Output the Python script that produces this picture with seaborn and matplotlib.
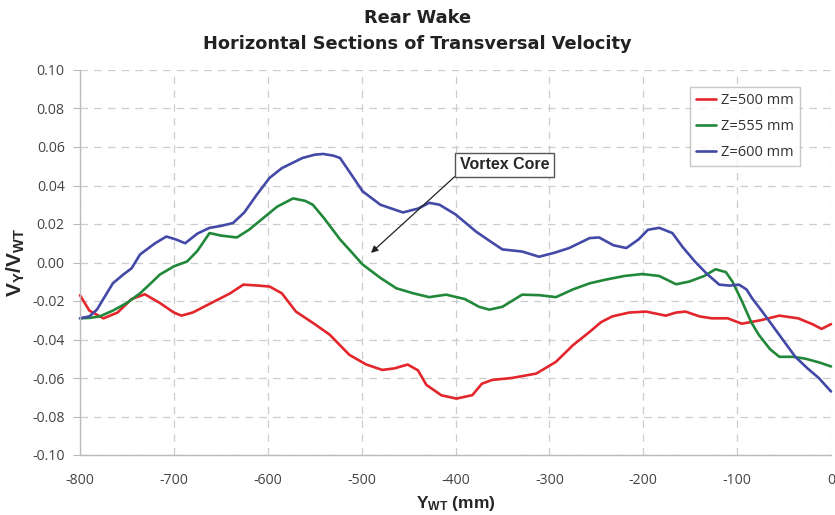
import numpy as np
import pandas as pd
import seaborn as sns
import matplotlib
matplotlib.use("Agg")
import matplotlib.pyplot as plt

# ---- data ----
x_500 = [-800, -790, -775, -760, -745, -731, -715, -700, -692, -680, -660, -640, -626, -610,
         -598, -585, -570, -550, -534, -513, -495, -478, -465, -451, -440, -431, -415, -399,
         -382, -372, -361, -340, -314, -293, -275, -257, -245, -233, -215, -197, -176, -165,
         -155, -140, -127, -110, -95, -75, -55, -35, -20, -10, 0]
y_500 = [-0.017, -0.025, -0.029, -0.026, -0.019, -0.0165, -0.021, -0.026, -0.0276, -0.026,
         -0.021, -0.016, -0.0115, -0.012, -0.0125, -0.016, -0.0255, -0.032, -0.0375, -0.048,
         -0.053, -0.0558, -0.055, -0.053, -0.056, -0.0636, -0.069, -0.0707, -0.0689, -0.063,
         -0.061, -0.060, -0.0577, -0.0516, -0.043, -0.036, -0.031, -0.028, -0.026, -0.0255,
         -0.0276, -0.026, -0.0255, -0.028, -0.029, -0.029, -0.0318, -0.030, -0.0276, -0.029,
         -0.032, -0.0345, -0.032]

x_555 = [-800, -790, -779, -765, -750, -736, -725, -715, -700, -686, -675, -662, -650, -633,
         -620, -605, -590, -573, -560, -552, -540, -523, -510, -499, -480, -463, -445, -428,
         -410, -390, -375, -364, -350, -329, -310, -293, -275, -257, -240, -220, -201, -183,
         -165, -151, -135, -123, -112, -105, -95, -85, -77, -65, -55, -40, -27, -12, 0]
y_555 = [-0.029, -0.0288, -0.028, -0.025, -0.021, -0.016, -0.011, -0.0063, -0.002, 0.0005,
         0.006, 0.0153, 0.014, 0.013, 0.017, 0.023, 0.029, 0.0333, 0.032, 0.030, 0.023, 0.012,
         0.005, -0.001, -0.008, -0.0134, -0.016, -0.018, -0.0167, -0.019, -0.023, -0.0245,
         -0.023, -0.0167, -0.017, -0.018, -0.014, -0.0108, -0.0089, -0.007, -0.006, -0.007,
         -0.0113, -0.0099, -0.007, -0.0035, -0.005, -0.0099, -0.020, -0.031, -0.0375, -0.045,
         -0.049, -0.049, -0.050, -0.052, -0.054]

x_600 = [-800, -790, -782, -765, -754, -745, -736, -720, -708, -698, -688, -675, -662, -650,
         -637, -625, -612, -598, -585, -563, -550, -541, -530, -523, -510, -499, -480, -456,
         -440, -428, -417, -400, -378, -360, -350, -329, -311, -295, -279, -257, -247, -232,
         -218, -205, -195, -183, -169, -158, -145, -132, -119, -108, -98, -90, -84, -74, -63,
         -50, -38, -25, -13, 0]
y_600 = [-0.029, -0.028, -0.0245, -0.0108, -0.0063, -0.003, 0.0042, 0.010, 0.0135, 0.012,
         0.010, 0.015, 0.018, 0.019, 0.0205, 0.026, 0.035, 0.044, 0.049, 0.0543, 0.0560,
         0.0564, 0.0555, 0.0543, 0.045, 0.037, 0.030, 0.026, 0.028, 0.031, 0.030, 0.025,
         0.016, 0.010, 0.0068, 0.0057, 0.003, 0.005, 0.0075, 0.0127, 0.013, 0.009, 0.0075,
         0.012, 0.017, 0.018, 0.0153, 0.008, 0.0005, -0.006, -0.0115, -0.012, -0.0115,
         -0.014, -0.0186, -0.025, -0.0323, -0.041, -0.049, -0.055, -0.060, -0.067]

series_labels = ["Z=500 mm", "Z=555 mm", "Z=600 mm"]
x_ticks = [-800, -700, -600, -500, -400, -300, -200, -100, 0]
y_ticks = [-0.10, -0.08, -0.06, -0.04, -0.02, 0.00, 0.02, 0.04, 0.06, 0.08, 0.10]
annotation_text = "Vortex Core"
annotation_xy = (-490, 0.005)
annotation_text_xy = (-348, 0.0508)

frames = []
for lab, xs, ys in zip(series_labels, [x_500, x_555, x_600], [y_500, y_555, y_600]):
    frames.append(pd.DataFrame({"Y": xs, "V": ys, "series": lab}))
df = pd.concat(frames, ignore_index=True)

sns.set_theme(style="white")
plt.rcParams["font.family"] = ["Liberation Sans", "DejaVu Sans"]
plt.rcParams["mathtext.fontset"] = "custom"
plt.rcParams["mathtext.rm"] = "Liberation Sans:bold"
plt.rcParams["mathtext.bf"] = "Liberation Sans:bold"
plt.rcParams["mathtext.it"] = "Liberation Sans:bold"

fig = plt.figure(figsize=(8.35, 5.15), dpi=100)
ax = fig.add_axes([80 / 835, 60 / 515, 751 / 835, 385 / 515])

palette = {"Z=500 mm": "#e3262b", "Z=555 mm": "#21883a", "Z=600 mm": "#4349a6"}
sns.lineplot(data=df, x="Y", y="V", hue="series", palette=palette, ax=ax,
             linewidth=1.9, sort=False, estimator=None, clip_on=False)
for ln in ax.get_lines():
    ln.set_solid_joinstyle("round")
    ln.set_solid_capstyle("round")

ax.set_xlim(-800, 0)
ax.set_ylim(-0.10, 0.10)
ax.set_xticks(x_ticks)
ax.set_yticks(y_ticks)
ax.set_xticklabels([str(v) for v in x_ticks])
ax.set_yticklabels([f"{v:.2f}" for v in y_ticks])
tick_font = ["Open Sans", "DejaVu Sans"]
for lbl in ax.get_xticklabels() + ax.get_yticklabels():
    lbl.set_family(tick_font)
    lbl.set_fontsize(10.2)
    lbl.set_color("#444444")
ax.tick_params(axis="y", which="major", length=5, color="#bbbbbb", width=0.8, left=True, pad=6)
ax.tick_params(axis="x", which="major", length=0, pad=13)

ax.grid(True, linestyle=(0, (6, 5)), color="#cccccc", linewidth=0.9)
for s in ["top", "right"]:
    ax.spines[s].set_visible(False)
for s in ["left", "bottom"]:
    ax.spines[s].set_color("#bbbbbb")
    ax.spines[s].set_linewidth(1.0)

ax.set_xlabel(r"$\mathbf{Y_{WT}}$ (mm)", fontsize=12.5, fontweight="bold", labelpad=4)
ax.set_ylabel(r"$\mathbf{V_Y/V_{WT}}$", fontsize=15, fontweight="bold", labelpad=4)

title_font = ["DejaVu Sans"]
fig.text(0.5, 0.965, "Rear Wake", ha="center", va="center", fontsize=12.8, fontweight="bold",
         color="#222222", family=title_font)
fig.text(0.5, 0.914, "Horizontal Sections of Transversal Velocity", ha="center", va="center",
         fontsize=12.8, fontweight="bold", color="#222222", family=title_font)

ax.annotate(annotation_text, xy=annotation_xy, xytext=annotation_text_xy,
            ha="center", va="center", fontsize=11.5, fontweight="bold",
            bbox=dict(boxstyle="square,pad=0.28", fc="white", ec="#555555", lw=1.0),
            arrowprops=dict(arrowstyle="-|>", color="#222222", lw=0.9,
                            mutation_scale=10, shrinkA=0, shrinkB=0,
                            relpos=(0.0, 0.0)))

leg = ax.legend(loc="upper right", bbox_to_anchor=(0.968, 0.974), frameon=True,
                fancybox=False, edgecolor="#bbbbbb", handlelength=1.4,
                handletextpad=0.3, borderpad=0.4, labelspacing=0.75, title=None,
                prop={"family": tick_font, "size": 10.5})
leg.get_frame().set_linewidth(1.0)
for t in leg.get_texts():
    t.set_color("#333333")

fig.savefig("out.png", dpi=100)
